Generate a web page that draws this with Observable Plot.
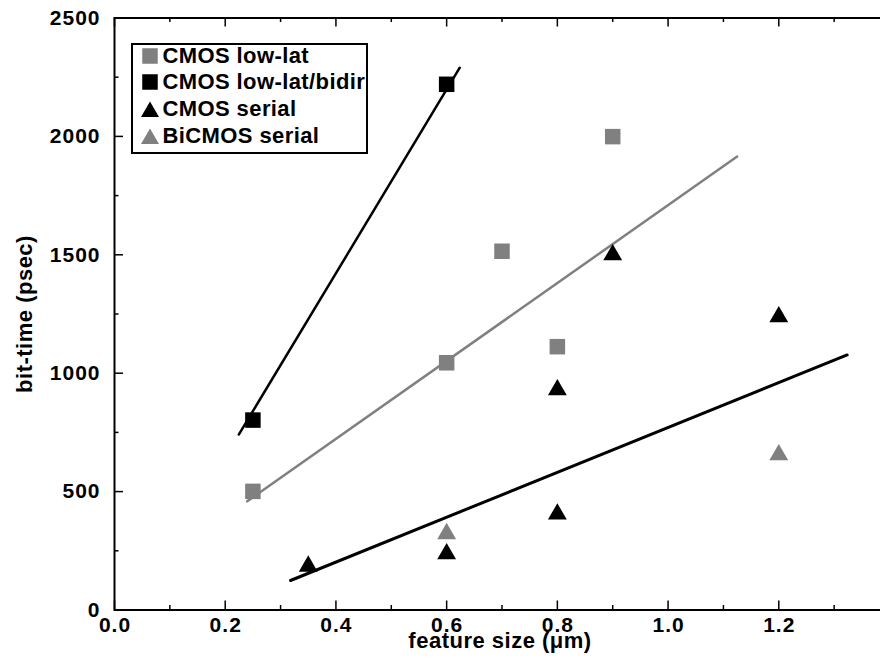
<!DOCTYPE html>
<html><head><meta charset="utf-8">
<script src="https://cdn.jsdelivr.net/npm/d3@7"></script>
<script src="https://cdn.jsdelivr.net/npm/@observablehq/plot@0.6"></script>
<style>
html,body{margin:0;padding:0;background:#fff;overflow:hidden;}
#wrap{position:relative;width:880px;height:668px;font-family:"Liberation Sans",Arial,sans-serif;font-weight:bold;}
#wrap svg.plot{overflow:hidden;}
#wrap svg text{letter-spacing:0.5px;}
#wrap svg g[aria-label="x-axis tick label"] text,
#wrap svg g[aria-label="y-axis tick label"] text{letter-spacing:1px;}
#legend{position:absolute;left:131px;top:43px;width:237px;height:111px;box-sizing:border-box;border:2px solid #000;background:#fff;}
.row{position:absolute;left:0;width:100%;height:26.7px;line-height:26.7px;font-size:22px;letter-spacing:0.4px;white-space:nowrap;color:#000;}
.row svg{position:absolute;left:8px;top:4px;}
.row span{position:absolute;left:29.5px;top:0;}
</style>
</head><body>
<div id="wrap"></div>
<script>
// Series
const seriesNames = ["CMOS low-lat", "CMOS low-lat/bidir", "CMOS serial", "BiCMOS serial"];
const seriesColors = ["#808080", "#000000", "#000000", "#808080"];
const seriesSymbols = ["square", "square", "triangle", "triangle"];

const lowLatX = [0.25, 0.6, 0.7, 0.8, 0.9];
const lowLatY = [501, 1044, 1515, 1112, 1999];
const bidirX = [0.25, 0.6];
const bidirY = [802, 2220];
const cmosSerialX = [0.35, 0.6, 0.8, 0.8, 0.9, 1.2];
const cmosSerialY = [185, 237, 405, 930, 1500, 1238];
const bicmosSerialX = [0.6, 1.2];
const bicmosSerialY = [322, 655];

// Fit lines (end points)
const fitBidirX = [0.2245, 0.6237];
const fitBidirY = [741, 2290];
const fitLowLatX = [0.2397, 1.1248];
const fitLowLatY = [459, 1915];
const fitSerialX = [0.318, 1.3235];
const fitSerialY = [124.6, 1077];

// Ticks
const xTicks = [0, 0.2, 0.4, 0.6, 0.8, 1.0, 1.2];
const xMinor = [0.1, 0.3, 0.5, 0.7, 0.9, 1.1, 1.3];
const yTicks = [0, 500, 1000, 1500, 2000, 2500];
const yMinor = [250, 750, 1250, 1750, 2250];
const xLabel = "feature size (\u03bcm)";
const yLabel = "bit-time (psec)";

const zip = (xs, ys) => xs.map((x, i) => ({x, y: ys[i]}));
const seriesData = [zip(lowLatX, lowLatY), zip(bidirX, bidirY), zip(cmosSerialX, cmosSerialY), zip(bicmosSerialX, bicmosSerialY)];

const W = 880, H = 668;
const mL = 114, mR = -9, mT = 17.5, mB = 58.5;
const plotW = W - mL - mR, plotH = H - mT - mB;
const font = "Liberation Sans, Arial, sans-serif";
const fs = 22, tfs = 21;

const marks = [
  Plot.frame({stroke: "black", strokeWidth: 2}),
  Plot.tickX(xTicks, {x: d => d, insetTop: plotH - 9, strokeWidth: 1.5}),
  Plot.tickX(xTicks, {x: d => d, insetBottom: plotH - 9, strokeWidth: 1.5}),
  Plot.tickX(xMinor, {x: d => d, insetTop: plotH - 4.5, strokeWidth: 1.5}),
  Plot.tickX(xMinor, {x: d => d, insetBottom: plotH - 4.5, strokeWidth: 1.5}),
  Plot.tickY(yTicks, {y: d => d, insetRight: plotW - 9, strokeWidth: 1.5}),
  Plot.tickY(yMinor, {y: d => d, insetRight: plotW - 4.5, strokeWidth: 1.5}),
  Plot.axisX({ticks: xTicks, tickSize: 0, tickPadding: 7, tickFormat: d3.format(".1f"), label: null, fontSize: tfs, fontWeight: "bold", fontFamily: font, dx: 0.5}),
  Plot.axisY({ticks: yTicks, tickSize: 0, tickPadding: 14, tickFormat: d => String(d), label: null, fontSize: tfs, fontWeight: "bold", fontFamily: font}),
  Plot.text([xLabel], {text: d => d, frameAnchor: "bottom", lineAnchor: "middle", textAnchor: "middle", dy: 31, dx: -2, fontSize: fs, fontWeight: "bold", fontFamily: font, fill: "black"}),
  Plot.text([yLabel], {text: d => d, frameAnchor: "left", lineAnchor: "middle", textAnchor: "middle", dx: -90, rotate: -90, fontSize: fs, fontWeight: "bold", fontFamily: font, fill: "black"}),
  Plot.line(zip(fitBidirX, fitBidirY), {x: "x", y: "y", stroke: "#000", strokeWidth: 2.5}),
  Plot.line(zip(fitLowLatX, fitLowLatY), {x: "x", y: "y", stroke: "#808080", strokeWidth: 2.5}),
  Plot.line(zip(fitSerialX, fitSerialY), {x: "x", y: "y", stroke: "#000", strokeWidth: 3}),
];
seriesData.forEach((data, i) => {
  marks.push(Plot.dot(data, {x: "x", y: "y", symbol: seriesSymbols[i], r: seriesSymbols[i] === "square" ? 8.75 : 7, fill: seriesColors[i], stroke: "none"}));
});

const chart = Plot.plot({
  width: W, height: H,
  marginLeft: mL, marginRight: mR, marginTop: mT, marginBottom: mB,
  x: {domain: [0, 1.4]},
  y: {domain: [0, 2500]},
  style: {fontFamily: font, fontWeight: "bold", fontSize: fs + "px", background: "white", overflow: "hidden"},
  marks
});
const wrap = document.getElementById("wrap");
wrap.appendChild(chart);

// Legend (HTML overlay)
const legend = document.createElement("div");
legend.id = "legend";
seriesNames.forEach((name, i) => {
  const row = document.createElement("div");
  row.className = "row";
  row.style.top = (-2.25 + 26.7 * i) + "px";
  const sym = seriesSymbols[i] === "square"
    ? `<rect x="1.25" y="1.25" width="15.5" height="15.5" fill="${seriesColors[i]}"/>`
    : `<polygon points="9,1.5 18,17 0,17" fill="${seriesColors[i]}"/>`;
  row.innerHTML = `<svg width="18" height="18" viewBox="0 0 18 18">${sym}</svg><span>${name}</span>`;
  legend.appendChild(row);
});
wrap.appendChild(legend);
</script>
</body></html>
